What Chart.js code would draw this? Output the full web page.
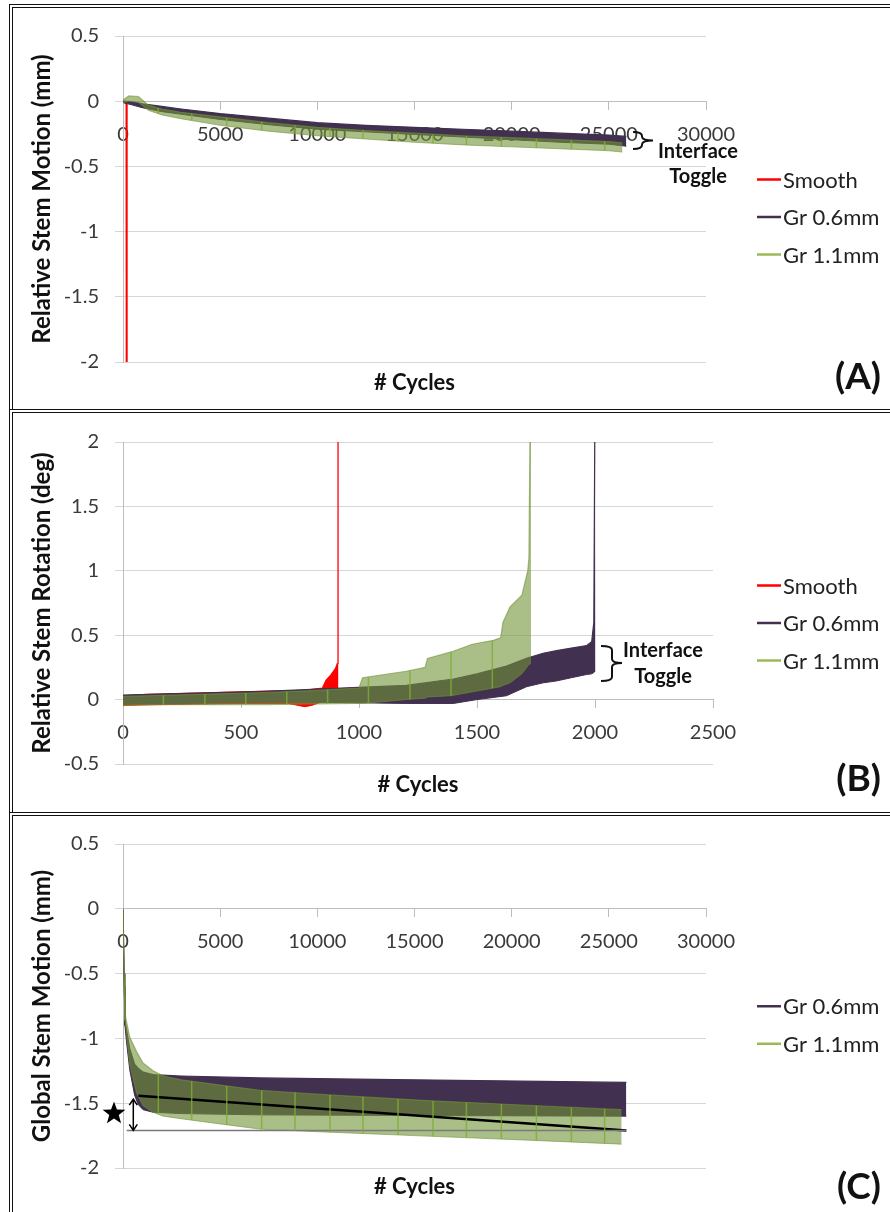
<!DOCTYPE html>
<html>
<head>
<meta charset="utf-8">
<script src="https://cdn.jsdelivr.net/npm/chart.js@4.4.1/dist/chart.umd.min.js"></script>
<style>
  body { margin: 0; background: #fff; width: 890px; height: 1212px; overflow: hidden; position: relative; }
  .panel { position: absolute; left: 9px; width: 900px; border-top: 4px double #111; border-left: 4px double #111; box-sizing: border-box; }
  canvas { position: absolute; left: 0; }
</style>
</head>
<body>
<div class="panel" style="top:4px;height:405px"></div>
<div class="panel" style="top:409px;height:403px"></div>
<div class="panel" style="top:812px;height:410px"></div>
<canvas id="chartA" width="890" height="400" style="top:8px"></canvas>
<canvas id="chartB" width="890" height="396" style="top:414px"></canvas>
<canvas id="chartC" width="890" height="396" style="top:816px"></canvas>
<script>
// ---- panel A: relative stem motion (mm) ----
var smoothCyclesA = [0, 100, 180, 190];
var smoothA = [0, -0.01, -0.02, -2.3];
var gr06CyclesA = [0, 500, 1000, 2000, 3000, 5000, 7500, 10000, 12500, 15000, 17500, 20000, 22500, 25000, 25900];
var gr06HighA = [0, -0.005, -0.02, -0.04, -0.06, -0.095, -0.13, -0.165, -0.185, -0.2, -0.215, -0.23, -0.245, -0.26, -0.27];
var gr06LowA = [-0.01, -0.03, -0.05, -0.08, -0.1, -0.14, -0.18, -0.215, -0.235, -0.255, -0.275, -0.295, -0.315, -0.33, -0.345];
var gr11CyclesA = [0, 300, 800, 1300, 2000, 3000, 5000, 7500, 10000, 12500, 15000, 17500, 20000, 22500, 25000, 25700];
var gr11HighA = [0.01, 0.04, 0.035, -0.03, -0.06, -0.085, -0.12, -0.165, -0.2, -0.225, -0.245, -0.265, -0.28, -0.295, -0.31, -0.32];
var gr11LowA = [-0.01, 0, -0.01, -0.07, -0.105, -0.135, -0.185, -0.23, -0.265, -0.29, -0.315, -0.335, -0.35, -0.365, -0.38, -0.39];

// ---- panel B: relative stem rotation (deg) ----
var smoothCyclesB = [0, 100, 300, 500, 700, 770, 800, 845, 860, 880, 900, 908, 911, 913];
var smoothHighB = [0.03, 0.04, 0.05, 0.06, 0.07, 0.07, 0.08, 0.09, 0.15, 0.19, 0.24, 0.28, 2.3, 2.3];
var smoothLowB = [-0.045, -0.04, -0.035, -0.03, -0.03, -0.055, -0.045, -0.015, 0, 0.02, 0.03, 0.05, 0.05, 0.05];
var gr06CyclesB = [0, 200, 400, 600, 800, 1000, 1200, 1400, 1500, 1625, 1710, 1780, 1837, 1900, 1965, 1986, 1995, 2000, 2002];
var gr06HighB = [0.035, 0.045, 0.055, 0.065, 0.08, 0.095, 0.11, 0.16, 0.2, 0.26, 0.32, 0.36, 0.38, 0.4, 0.42, 0.45, 0.6, 2.4, 2.4];
var gr06LowB = [-0.035, -0.03, -0.025, -0.02, -0.02, -0.025, -0.03, -0.03, 0, 0.03, 0.1, 0.13, 0.145, 0.17, 0.195, 0.2, 0.21, 0.22, 0.22];
var gr11CyclesB = [0, 200, 400, 600, 800, 1000, 1015, 1200, 1280, 1290, 1390, 1480, 1570, 1600, 1610, 1640, 1690, 1715, 1720, 1726, 1729];
var gr11HighB = [0.025, 0.035, 0.045, 0.055, 0.07, 0.09, 0.17, 0.22, 0.25, 0.32, 0.37, 0.43, 0.46, 0.48, 0.6, 0.72, 0.81, 1.0, 1.1, 2.4, 2.4];
var gr11LowB = [-0.045, -0.04, -0.04, -0.04, -0.035, -0.03, -0.03, 0.0, 0.01, 0.02, 0.03, 0.06, 0.09, 0.1, 0.11, 0.13, 0.2, 0.26, 0.27, 0.28, 0.28];

// ---- panel C: global stem motion (mm) ----
var gr06CyclesC = [0, 60, 100, 140, 200, 345, 600, 780, 1030, 1550, 3000, 7050, 15000, 25900];
var gr06HighC = [0, -0.5, -0.85, -0.9, -0.95, -1.08, -1.2, -1.23, -1.26, -1.28, -1.29, -1.305, -1.32, -1.34];
var gr06LowC = [-0.02, -0.6, -0.9, -0.965, -1.05, -1.24, -1.44, -1.51, -1.55, -1.57, -1.58, -1.59, -1.595, -1.6];
var gr11CyclesC = [0, 60, 100, 140, 345, 690, 1030, 1550, 2070, 3000, 5000, 7050, 10000, 15630, 20000, 25660];
var gr11HighC = [0, -0.5, -0.8, -0.84, -0.99, -1.1, -1.19, -1.25, -1.29, -1.32, -1.36, -1.4, -1.43, -1.48, -1.51, -1.55];
var gr11LowC = [-0.02, -0.55, -0.86, -0.9, -1.2, -1.42, -1.52, -1.57, -1.6, -1.62, -1.66, -1.7, -1.72, -1.754, -1.78, -1.816];
var trendCyclesC = [790, 25900];
var trendC = [-1.443, -1.71];
var refCyclesC = [190, 25900];
var refC = [-1.71, -1.71];

// cycles where the Gr 1.1mm trace shows its bright vertical streaks
var streaksLong = [1817, 3535, 5337, 7138, 8852, 10653, 12350, 14152, 15953, 17670, 19471, 21272, 23073, 24785];
var streaksB = [171, 347, 520, 694, 867, 1040, 1216, 1390, 1565];

var ticksY_A = [-2, 0.5, 0.5];   // min, max, step
var ticksY_B = [-0.5, 2, 0.5];
var ticksY_C = [-2, 0.5, 0.5];
var ticksX_A = [0, 30000, 5000];
var ticksX_B = [0, 2500, 500];
var ticksX_C = [0, 30000, 5000];

var RED = '#ff0000';
var PURPLE = '#41304f';
var GREEN = 'rgba(113,147,55,0.6)';
var GREEN_KEY = '#9bbb59';
var STREAK = 'rgba(128,172,52,0.8)';
var FONT = 'Lato, "Open Sans", sans-serif';

Chart.defaults.font.family = FONT;
Chart.defaults.animation = false;

function pts(xs, ys) {
    return xs.map(function (x, i) { return {x: x, y: ys[i]}; });
}

// upper line fills down to the lower line (next dataset)
function band(label, xs, hi, lo, color, order, firstIndex) {
    return [
        {label: label, data: pts(xs, hi), borderColor: color, backgroundColor: color, borderWidth: 1.2,
         pointRadius: 0, fill: firstIndex + 1, order: order},
        {label: label + ' low', data: pts(xs, lo), borderColor: color, borderWidth: 1,
         pointRadius: 0, fill: false, order: order}
    ];
}

function drawBrace(ctx, x0, xm, x1, y0, ym, y1) {
    var r = 4;
    ctx.beginPath();
    ctx.moveTo(x0, y0);
    ctx.quadraticCurveTo(xm, y0, xm, y0 + r);
    ctx.lineTo(xm, ym - r);
    ctx.quadraticCurveTo(xm, ym, x1, ym);
    ctx.moveTo(x1, ym);
    ctx.quadraticCurveTo(xm, ym, xm, ym + r);
    ctx.lineTo(xm, y1 - r);
    ctx.quadraticCurveTo(xm, y1, x0, y1);
    ctx.stroke();
}

function yOn(line, px) {
    var p = line.interpolate({x: px}, 'x');
    if (Array.isArray(p)) p = p[0];
    return p ? p.y : null;
}

function decor(cfg) {
    return {
        id: 'decor',
        afterDatasetsDraw: function (chart) {
            if (!cfg.streaks) return;
            var ctx = chart.ctx, a = chart.chartArea, x = chart.scales.x;
            var hi = chart.getDatasetMeta(cfg.streaks.hi).dataset;
            var lo = chart.getDatasetMeta(cfg.streaks.lo).dataset;
            ctx.save();
            ctx.beginPath();
            ctx.rect(a.left, a.top, a.right - a.left, a.bottom - a.top);
            ctx.clip();
            ctx.strokeStyle = STREAK;
            ctx.lineWidth = 1.5;
            cfg.streaks.cycles.forEach(function (c) {
                var px = x.getPixelForValue(c);
                var y1 = yOn(hi, px), y2 = yOn(lo, px);
                if (y1 === null || y2 === null) return;
                ctx.beginPath();
                ctx.moveTo(px, y1);
                ctx.lineTo(px, y2);
                ctx.stroke();
            });
            ctx.restore();
        },
        afterDraw: function (chart) {
            var ctx = chart.ctx, a = chart.chartArea;
            ctx.save();
            ctx.fillStyle = '#111';
            ctx.textBaseline = 'middle';
            ctx.font = 'bold 22px ' + FONT;
            ctx.textAlign = 'center';
            ctx.fillText('# Cycles', (a.left + a.right) / 2, a.bottom + cfg.titleDy);
            ctx.font = 'bold 37px ' + FONT;
            ctx.textAlign = 'right';
            ctx.fillText(cfg.letter, 881, a.bottom + cfg.letterDy);

            // legend
            ctx.font = '22px ' + FONT;
            ctx.textAlign = 'left';
            var n = cfg.keys.length;
            cfg.keys.forEach(function (k, i) {
                var ly = a.top + 181 + (i - (n - 1) / 2) * 37.5;
                ctx.strokeStyle = cfg.keyColors[i];
                ctx.lineWidth = 2.5;
                ctx.beginPath();
                ctx.moveTo(757, ly);
                ctx.lineTo(781, ly);
                ctx.stroke();
                ctx.fillStyle = '#222';
                ctx.fillText(k, 783, ly + 1);
            });

            if (cfg.toggle) {
                var t = cfg.toggle, top = cfg.top;
                ctx.strokeStyle = '#111';
                ctx.lineWidth = 2;
                drawBrace(ctx, t.brace[0], t.brace[1], t.brace[2], t.brace[3] - top, t.brace[4] - top, t.brace[5] - top);
                ctx.fillStyle = '#111';
                ctx.font = 'bold 20px ' + FONT;
                ctx.textAlign = 'center';
                ctx.fillText('Interface', t.text[0], t.text[1] - top);
                ctx.fillText('Toggle', t.text[0], t.text[2] - top);
            }
            if (cfg.extra) cfg.extra(chart, ctx);
            ctx.restore();
        }
    };
}

function plain(v) { return String(v); }

function makeChart(id, datasets, xt, yt, yTitle, right, padTop, padBottom, cfg) {
    return new Chart(document.getElementById(id), {
        type: 'line',
        data: {datasets: datasets},
        options: {
            responsive: false,
            layout: {padding: {left: 0, right: right, top: padTop, bottom: padBottom}},
            plugins: {legend: {display: false}, tooltip: {enabled: false}},
            elements: {line: {tension: 0}},
            scales: {
                x: {
                    type: 'linear', min: xt[0], max: xt[1], position: {y: 0}, z: 1,
                    ticks: {stepSize: xt[2], color: '#3a3a3a', font: {size: 20}, padding: 13, maxRotation: 0,
                            autoSkip: false, callback: plain},
                    grid: {drawOnChartArea: false, drawTicks: true, tickLength: 8, color: '#bdbdbd'},
                    border: {color: '#bdbdbd'},
                    afterFit: function (s) { s.height = 0; }
                },
                y: {
                    min: yt[0], max: yt[1],
                    ticks: {stepSize: yt[2], color: '#3a3a3a', font: {size: 20}, padding: 16, callback: plain},
                    grid: {color: '#d6d6d6', tickLength: 8},
                    border: {color: '#bdbdbd'},
                    title: {display: true, text: yTitle, color: '#111', font: {size: 24, weight: 'bold'}, padding: {top: 28, bottom: 0}},
                    afterFit: function (s) { s.width = 123; }
                }
            }
        },
        plugins: [decor(cfg)]
    });
}

// panel A
var dsA = [{label: 'Smooth', data: pts(smoothCyclesA, smoothA), borderColor: RED, borderWidth: 2, pointRadius: 0, fill: false, order: 3}]
    .concat(band('Gr 0.6mm', gr06CyclesA, gr06HighA, gr06LowA, PURPLE, 2, 1))
    .concat(band('Gr 1.1mm', gr11CyclesA, gr11HighA, gr11LowA, GREEN, 1, 3));
makeChart('chartA', dsA, ticksX_A, ticksY_A, 'Relative Stem Motion (mm)', 184, 19, 46, {
    top: 8, titleDy: 21, letterDy: 15, letter: '(A)',
    keys: ['Smooth', 'Gr 0.6mm', 'Gr 1.1mm'], keyColors: [RED, PURPLE, GREEN_KEY],
    toggle: {brace: [633, 642, 653, 132, 140.5, 149], text: [698, 152, 177]},
    streaks: {hi: 3, lo: 4, cycles: streaksLong}
});

// panel B
var dsB = band('Smooth', smoothCyclesB, smoothHighB, smoothLowB, RED, 3, 0)
    .concat(band('Gr 0.6mm', gr06CyclesB, gr06HighB, gr06LowB, PURPLE, 2, 2))
    .concat(band('Gr 1.1mm', gr11CyclesB, gr11HighB, gr11LowB, GREEN, 1, 4));
makeChart('chartB', dsB, ticksX_B, ticksY_B, 'Relative Stem Rotation (deg)', 177, 16, 46, {
    top: 414, titleDy: 21, letterDy: 15, letter: '(B)',
    keys: ['Smooth', 'Gr 0.6mm', 'Gr 1.1mm'], keyColors: [RED, PURPLE, GREEN_KEY],
    toggle: {brace: [601, 612, 622, 646, 663, 681], text: [663, 651, 677]},
    streaks: {hi: 4, lo: 5, cycles: streaksB}
});

// panel C
var dsC = band('Gr 0.6mm', gr06CyclesC, gr06HighC, gr06LowC, PURPLE, 2, 0)
    .concat(band('Gr 1.1mm', gr11CyclesC, gr11HighC, gr11LowC, GREEN, 1, 2))
    .concat([
        {label: 'ref', data: pts(refCyclesC, refC), borderColor: '#7a7a7a', borderWidth: 1.5, pointRadius: 0, fill: false, order: 0},
        {label: 'trend', data: pts(trendCyclesC, trendC), borderColor: '#000', borderWidth: 2.5, pointRadius: 0, fill: false, order: 0}
    ]);
makeChart('chartC', dsC, ticksX_C, ticksY_C, 'Global Stem Motion (mm)', 184, 17, 44, {
    top: 816, titleDy: 19, letterDy: 19, letter: '(C)',
    keys: ['Gr 0.6mm', 'Gr 1.1mm'], keyColors: [PURPLE, GREEN_KEY],
    streaks: {hi: 2, lo: 3, cycles: streaksLong},
    extra: function (chart, ctx) {
        var x = chart.scales.x, y = chart.scales.y;
        var ax = x.getPixelForValue(530);
        var y0 = y.getPixelForValue(trendC[0] - 0.025), y1 = y.getPixelForValue(refC[0]);
        ctx.strokeStyle = '#000';
        ctx.lineWidth = 1.5;
        ctx.beginPath();
        ctx.moveTo(ax, y0); ctx.lineTo(ax, y1);
        ctx.moveTo(ax - 4, y0 + 6); ctx.lineTo(ax, y0); ctx.lineTo(ax + 4, y0 + 6);
        ctx.moveTo(ax - 4, y1 - 6); ctx.lineTo(ax, y1); ctx.lineTo(ax + 4, y1 - 6);
        ctx.stroke();
        // star
        var cx = chart.chartArea.left - 9, cy = y.getPixelForValue(-1.58);
        ctx.fillStyle = '#000';
        ctx.beginPath();
        for (var i = 0; i < 10; i++) {
            var r = i % 2 === 0 ? 12 : 5;
            var ang = -Math.PI / 2 + i * Math.PI / 5;
            ctx.lineTo(cx + r * Math.cos(ang), cy + r * Math.sin(ang));
        }
        ctx.closePath();
        ctx.fill();
    }
});
</script>
</body>
</html>
